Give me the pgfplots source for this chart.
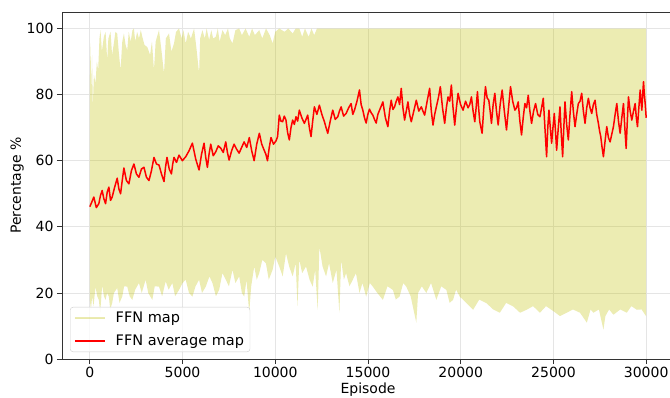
\documentclass[border=0pt]{standalone}
\usepackage{pgfplots}
\pgfplotsset{compat=1.18}
\usepgfplotslibrary{fillbetween}
\usepackage{fontspec}
\setmainfont{DejaVu Sans}
\definecolor{ffn}{RGB}{191,191,0}
\begin{document}
\begin{tikzpicture}
\begin{axis}[
 scale only axis, width=612pt, height=347pt,
 xmin=-1500, xmax=31500, ymin=0, ymax=105,
 xtick={0,5000,...,30000}, ytick={0,20,...,100},
 scaled x ticks=false,
 /pgf/number format/1000 sep={},
 /pgf/number format/assume math mode=true,
 tick label style={font=\fontsize{14}{16}\selectfont},
 label style={font=\fontsize{14}{16}\selectfont},
 xlabel={Episode}, ylabel={Percentage \%},
 xlabel shift=-2pt, ylabel shift=-4pt,
 grid=major, major grid style={black!10, line width=0.8pt},
 axis line style={black!80, line width=0.8pt},
 tick align=outside, xtick pos=bottom, ytick pos=left, major tick length=5pt,
 tick style={black!80, line width=0.8pt},
 legend style={at={(0,0)}, anchor=south west, xshift=8pt, yshift=7pt, draw=black!20, rounded corners=3pt, fill=white, fill opacity=0.8, text opacity=1, font=\fontsize{14.5}{16}\selectfont, row sep=6.5pt, column sep=8pt, inner xsep=4pt, inner ysep=3pt},
 legend cell align=left,
]
\addplot[draw=none, name path=upper, forget plot] coordinates {
(0,83) (40,95.5) (80,80) (120,92) (162,76.3) (220,86) (306,83.4) (380,90) (450,87.4) (520,97) (577,99.5) (650,93)
(757,97.5) (850,99) (937,90.4) (1000,97) (1117,99) (1200,92) (1297,95.5) (1380,99) (1477,98.5) (1560,93)
(1658,87.4) (1750,96) (1838,98.5) (1930,95) (2018,93.4) (2100,99) (2200,96) (2300,99.5) (2378,100) (2450,96)
(2550,99) (2650,97) (2750,99.5) (2829,97.5) (2950,95) (3099,94.4) (3250,92) (3350,96) (3459,87.4) (3550,96)
(3650,98) (3730,99.5) (3850,94) (4000,86.4) (4100,97) (4270,98.5) (4400,93) (4540,95.5) (4650,99) (4810,100)
(4950,97) (5050,99.5) (5171,95.5) (5300,99) (5450,97) (5622,100) (5750,94) (5892,86.4) (5950,97) (6072,99.5)
(6200,97) (6300,100) (6432,96.5) (6550,99.5) (6650,97) (6793,97.5) (6900,100) (7000,96) (7153,99.5) (7300,98)
(7450,100) (7550,97) (7694,95.5) (7850,99.5) (8054,100) (8200,98) (8400,100) (8595,97.5) (8750,100) (8900,98)
(9135,99.5) (9300,97) (9500,100) (9700,98) (9856,95.5) (10000,99) (10216,100) (10500,99) (10700,100)
(10937,98.5) (11100,100) (11297,100) (11450,97.5) (11600,100) (11800,97.5) (11950,100) (12100,98) (12250,100)
(30000,100)
};
\addplot[draw=none, name path=lower, forget plot] coordinates {
(0,17.9) (60,15) (126,18.9) (200,16) (306,21.9) (400,19) (486,17.9) (560,14) (667,22.4) (760,19) (847,17.9)
(930,20) (1027,18.9) (1100,15) (1207,17) (1300,20) (1477,21.5) (1600,17) (1748,18.9) (1850,22) (2018,21.9)
(2150,19) (2288,17.9) (2450,21) (2649,23) (2800,20) (3009,24) (3150,20) (3369,17.9) (3500,22) (3730,21.9)
(3900,19) (4090,23.5) (4250,21) (4450,23) (4600,19) (4810,20.9) (5000,23) (5171,24) (5350,20) (5532,18.9)
(5700,22) (5892,24) (6050,20) (6252,21.9) (6450,25) (6613,23) (6800,19) (6973,20.9) (7150,26) (7333,24)
(7500,22) (7694,27) (7850,23) (8054,25) (8200,20) (8324,18.9) (8450,24) (8595,14) (8700,22) (8865,28)
(9000,24) (9135,26) (9300,30) (9495,29) (9650,24) (9856,27) (10000,31) (10216,28) (10400,25) (10577,32)
(10750,28) (10937,25) (11100,29) (11200,16) (11297,30) (11450,26) (11658,28) (11850,24) (12018,21.9)
(12150,27) (12288,14.9) (12378,34) (12550,28) (12739,25) (12900,29) (13099,23) (13300,27) (13459,14)
(13550,30) (13700,24) (13820,26) (14000,22) (14180,24) (14350,26) (14541,20) (14700,23) (14901,18.9)
(15100,23) (15261,21.9) (15500,20) (15802,17.9) (16050,22) (16342,20.9) (16500,18) (16703,18.9) (16900,23)
(17063,21.9) (17300,19) (17604,11) (17700,20) (17900,22) (18144,20) (18400,23) (18685,17.9) (18950,22)
(19225,20.9) (19400,17) (19586,17.9) (19750,21) (19946,18.9) (20300,17) (20667,14.9) (21000,18) (21387,16.9)
(21750,15) (22108,14) (22450,17) (22829,15.9) (23200,14) (23550,14.9) (23900,16) (24270,14) (24600,16)
(24991,14.5) (25350,13) (25712,14) (26050,15) (26432,14) (26800,11) (27000,15) (27153,14) (27450,15)
(27694,8.9) (27800,13) (28000,15) (28234,13.4) (28600,15) (28955,14) (29200,16) (29495,14.9) (29750,15)
(30000,12.9)
};
\addplot[fill=ffn, fill opacity=0.3, draw=none,
 legend image code/.code={\draw[ffn, draw opacity=0.3, line width=1.5pt] (0pt,0pt) -- (30pt,0pt);}]
 fill between[of=upper and lower];
\addlegendentry{FFN map}
\addplot[red, line width=1.5pt, line join=round,
 legend image code/.code={\draw[red, line width=1.5pt] (0pt,0pt) -- (30pt,0pt);}]
coordinates {
(0,46.1) (108,47.5) (216,49) (350,45.8) (486,47) (575,49.5) (665,51) (757,48.5) (849,47) (938,50.5) (1027,52)
(1116,48) (1205,49) (1340,52) (1476,54.7) (1567,51.5) (1658,50) (1748,54) (1838,57.8) (1973,54) (2108,53)
(2243,57) (2378,59) (2513,56) (2649,55) (2784,57.5) (2919,58) (3054,55) (3189,54) (3324,57) (3459,61)
(3595,59) (3730,58.7) (3865,56) (4000,53.7) (4081,58) (4162,61) (4281,57.5) (4400,56) (4470,59) (4540,61)
(4675,59.5) (4810,61.7) (4990,60) (5170,61.2) (5350,63) (5530,65.3) (5710,60.5) (5890,57.2) (6025,62)
(6160,65.3) (6250,61) (6340,58) (6430,62) (6520,65) (6655,61.5) (6790,62.7) (6925,64.5) (7060,63.8)
(7195,62.5) (7330,65.7) (7420,62.5) (7510,60.2) (7645,63) (7780,65) (7915,63.5) (8050,62.3) (8185,64)
(8320,65.7) (8460,64) (8600,67) (8730,63) (8860,60) (9000,65) (9140,68.3) (9270,65) (9400,63.2) (9490,62)
(9580,60) (9675,64) (9770,67) (9905,65) (10040,66) (10125,67.3) (10170,70.5) (10216,73.8) (10306,72)
(10396,71.8) (10486,73.5) (10576,72.3) (10666,68.5) (10757,66.3) (10847,70) (10937,72.3) (11027,71)
(11117,73.3) (11207,72) (11297,75.3) (11432,73) (11568,71.3) (11658,72.5) (11748,73.8) (11838,70)
(11928,67.3) (12018,72) (12108,76.3) (12243,74) (12378,76.8) (12513,74) (12649,71.8) (12739,70) (12829,68.3)
(12964,72) (13099,75.3) (13234,72.5) (13369,73.3) (13460,75) (13550,76.3) (13685,73.5) (13820,74.3)
(13955,76) (14090,77.3) (14180,74) (14270,75.3) (14405,78) (14540,81.4) (14630,77) (14720,75.3) (14810,73)
(14900,71.4) (14990,74) (15081,75.6) (15171,74.5) (15261,73.8) (15351,72.5) (15441,71.4) (15531,74)
(15622,75.3) (15712,76.5) (15802,77.8) (15937,73) (16072,70.3) (16162,75) (16252,78.3) (16342,75.5)
(16432,76.3) (16522,78) (16612,79.3) (16702,77) (16793,81.9) (16883,76) (16973,72.3) (17063,75) (17153,77.8)
(17243,74) (17333,71.8) (17468,75) (17604,78.3) (17739,75) (17874,76.3) (17964,75) (18054,73.8) (18189,78)
(18324,81.9) (18414,75) (18505,70.8) (18595,74) (18685,76.3) (18793,79) (18901,82.4) (19018,76) (19135,71.3)
(19225,76) (19315,79.3) (19405,78) (19495,82.9) (19585,76) (19676,70.8) (19766,76) (19856,80.4) (19991,77)
(20126,75.3) (20261,78) (20396,76) (20486,77) (20577,79.3) (20667,75) (20757,71.8) (20830,76) (20901,80.9)
(20964,76) (21027,71.8) (21090,70) (21153,68.3) (21243,76) (21333,82.4) (21424,79) (21514,78.3) (21586,75)
(21658,71.3) (21748,77) (21838,80.4) (21928,75) (22018,70.8) (22126,77) (22234,81.4) (22351,75) (22468,69.3)
(22577,76) (22685,82.4) (22802,78) (22919,75.3) (23009,76) (23099,77.8) (23189,72) (23279,67.8) (23369,73)
(23459,77.3) (23550,76) (23640,79.8) (23730,75) (23820,71.3) (23928,75) (24036,77.3) (24153,74) (24270,73.3)
(24360,76) (24450,78.9) (24540,70) (24630,61.2) (24694,70) (24757,75.3) (24829,70) (24901,65.3) (24973,70)
(25045,74.3) (25108,69) (25171,63.2) (25261,70) (25351,76.3) (25423,68) (25495,61.2) (25558,70) (25622,77.8)
(25712,71) (25802,66.3) (25892,74) (25982,80.9) (26072,75) (26162,70.3) (26252,74) (26342,77.3) (26432,78)
(26523,80.4) (26613,75) (26703,71.3) (26793,76) (26883,78.9) (26973,76) (27063,74.3) (27153,77) (27243,78.3)
(27333,74) (27423,71.3) (27487,69) (27550,67.3) (27622,64) (27694,61.2) (27784,66) (27874,70.3) (27964,67)
(28054,65.7) (28144,68) (28234,70.3) (28325,74) (28415,77.3) (28505,72) (28595,68.3) (28685,73) (28775,77.3)
(28847,70) (28919,63.7) (28982,72) (29045,79.3) (29135,75) (29225,72.3) (29315,75) (29405,77.3) (29468,73)
(29531,70.3) (29604,76) (29676,81.4) (29721,78) (29766,75.3) (29811,80) (29856,83.9) (29901,80) (29946,77.3)
(30000,73)
};
\addlegendentry{FFN average map}
\coordinate (sw) at (rel axis cs:0,0);
\coordinate (ne) at (rel axis cs:1,1);
\end{axis}
\pgfresetboundingbox
\path ([xshift=-62pt,yshift=-38pt]sw) rectangle ([xshift=-4pt,yshift=12pt]ne);
\end{tikzpicture}
\end{document}
